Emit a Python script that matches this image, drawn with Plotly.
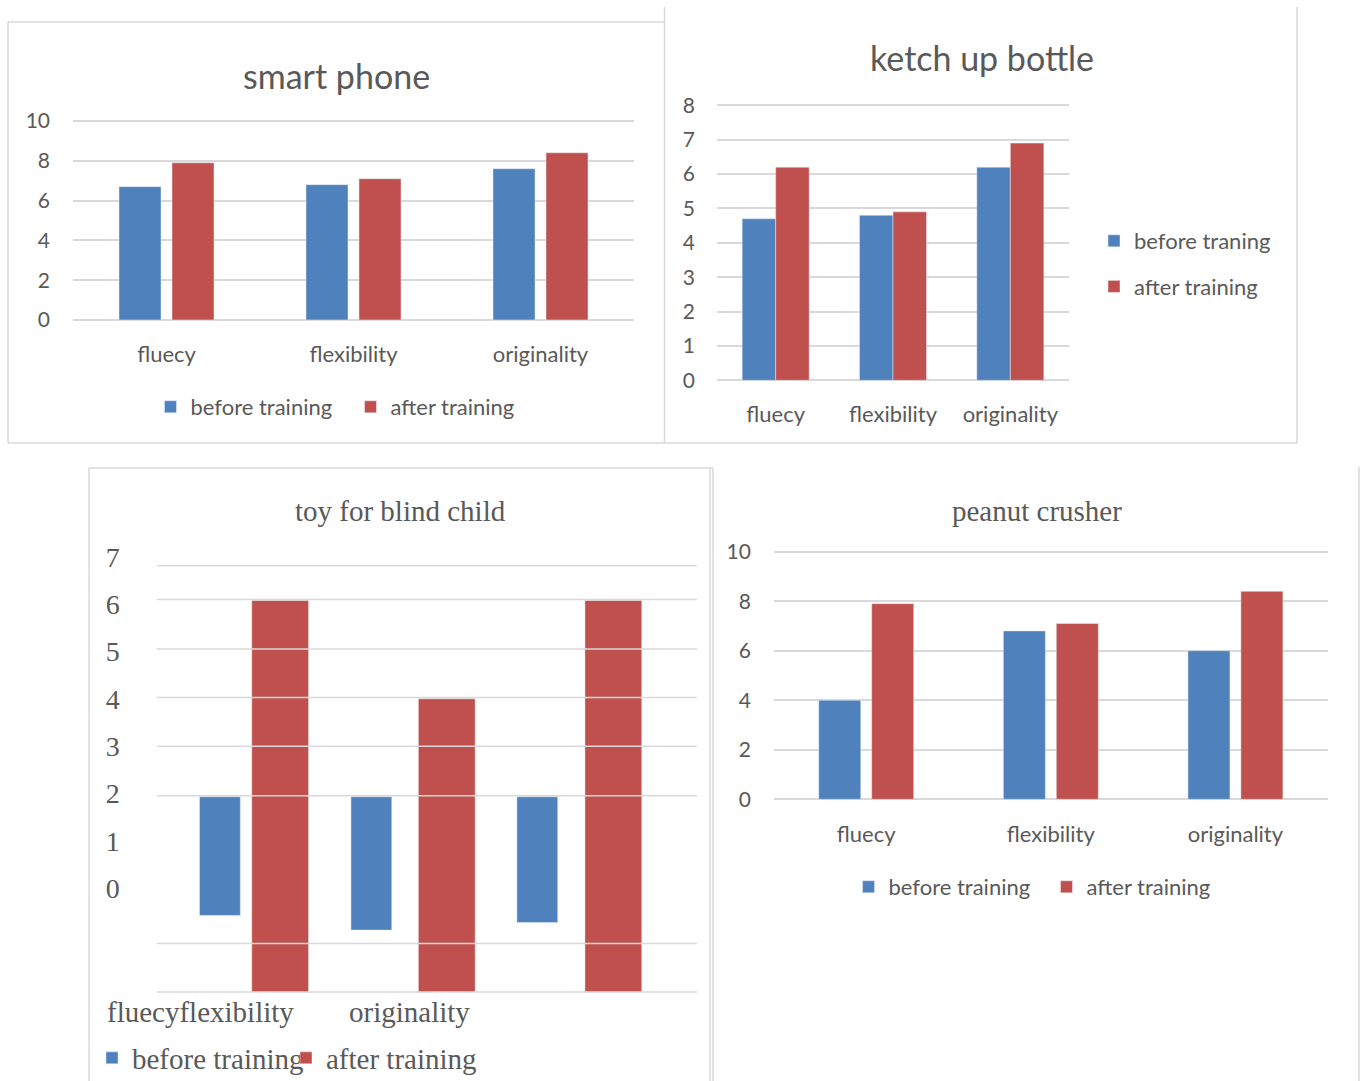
import plotly.graph_objects as go

W, H = 1362, 1081

# ---------------- data ----------------
categories = ["fluecy", "flexibility", "originality"]

smart_before = [6.7, 6.8, 7.6]
smart_after = [7.9, 7.1, 8.4]
smart_ticks = [0, 2, 4, 6, 8, 10]

ketchup_before = [4.7, 4.8, 6.2]
ketchup_after = [6.2, 4.9, 6.9]
ketchup_ticks = [0, 1, 2, 3, 4, 5, 6, 7, 8]

toy_before_top = [1.93, 1.93, 1.93]
toy_before_bottom = [-0.58, -0.89, -0.73]
toy_after_top = [6.08, 4.0, 6.08]
toy_after_bottom = [-2.2, -2.2, -2.2]
toy_ticks = [0, 1, 2, 3, 4, 5, 6, 7]
toy_gridlines = [6.815, 6.103, 5.054, 4.026, 2.996, 1.950, -1.176, -2.2]
toy_xlabels = ["fluecyflexibility", "originality"]

peanut_before = [4.0, 6.8, 6.0]
peanut_after = [7.9, 7.1, 8.4]
peanut_ticks = [0, 2, 4, 6, 8, 10]

# ---------------- style ----------------
BLUE = "#4f81bd"
RED = "#c0504d"
GRAY = "#595959"
GRID = "#d9d9d9"
SANS = "Lato"
SERIF = "Liberation Serif"


def px(x):
    return x / W


def py(y):
    return 1 - y / H


def ydomain(v0, p0, v1, p1, r0, r1):
    s = (p0 - p1) / (v1 - v0)
    a = p0 - (r0 - v0) * s
    b = p0 - (r1 - v0) * s
    return [py(a), py(b)]


fig = go.Figure()


def add_pair(before, after, xa, ya, leg, names, width, off_b, off_r):
    fig.add_trace(go.Bar(x=categories, y=before, name=names[0], marker_color=BLUE,
                         xaxis=xa, yaxis=ya, legend=leg, width=width, offset=off_b,
                         legendgroup=leg + "b", hoverinfo="x+y"))
    fig.add_trace(go.Bar(x=categories, y=after, name=names[1], marker_color=RED,
                         xaxis=xa, yaxis=ya, legend=leg, width=width, offset=off_r,
                         legendgroup=leg + "r", hoverinfo="x+y"))


add_pair(smart_before, smart_after, "x", "y", "legend",
         ["before training", "after training"], 0.2246, -0.254, 0.0294)
add_pair(ketchup_before, ketchup_after, "x2", "y2", "legend2",
         ["before traning", "after training"], 0.2856, -0.2856, 0.0)

# toy chart (floating bars)
fig.add_trace(go.Bar(x=categories, y=[t - b for t, b in zip(toy_before_top, toy_before_bottom)],
                     base=toy_before_bottom, name="before training", marker_color=BLUE,
                     xaxis="x3", yaxis="y3", legend="legend3", width=0.245,
                     offset=[-0.484, -0.575, -0.579], hoverinfo="x"))
fig.add_trace(go.Bar(x=categories, y=[t - b for t, b in zip(toy_after_top, toy_after_bottom)],
                     base=toy_after_bottom, name="after training", marker_color=RED,
                     xaxis="x3", yaxis="y3", legend="legend3", width=0.341,
                     offset=-0.1705, hoverinfo="x"))

add_pair(peanut_before, peanut_after, "x4", "y4", "legend4",
         ["before training", "after training"], 0.2275, -0.257, 0.0298)

ytick = dict(family=SANS, size=21, color=GRAY)
xtick = dict(family=SANS, size=22, color=GRAY)
legfont = dict(family=SANS, size=22, color=GRAY)
serif_font = dict(family=SERIF, size=29, color=GRAY)
serif_tick = dict(family=SERIF, size=28, color=GRAY)

common_y = dict(showgrid=True, gridcolor=GRID, gridwidth=1.5, zeroline=False,
                showline=False, ticks="", fixedrange=True, automargin=False)
common_x = dict(showgrid=False, zeroline=False, showline=False, ticks="", type="category",
                fixedrange=True, automargin=False)

fig.update_layout(
    width=W, height=H, autosize=False,
    margin=dict(l=0, r=0, t=0, b=0, pad=0, autoexpand=False),
    paper_bgcolor="white", plot_bgcolor="white",
    barmode="group",
    # panel 1
    xaxis=dict(common_x, domain=[px(73), px(634)], anchor="y", tickfont=xtick,
               ticklabelstandoff=17),
    yaxis=dict(common_y, domain=ydomain(0, 320, 10, 121, -0.1, 10.1), range=[-0.1, 10.1],
               anchor="x", tickvals=smart_ticks, tickfont=ytick, ticklabelstandoff=22),
    # panel 2
    xaxis2=dict(common_x, domain=[px(717), px(1069)], anchor="y2", tickfont=xtick,
                ticklabelstandoff=17),
    yaxis2=dict(common_y, domain=ydomain(0, 380.3, 8, 105.3, -0.05, 8.05), range=[-0.05, 8.05],
                anchor="x2", tickvals=ketchup_ticks, tickfont=ytick,
                ticklabelstandoff=21),
    # panel 3
    xaxis3=dict(common_x, domain=[px(156.7), px(697)], anchor="y3", showticklabels=False,
                range=[-0.741, 2.502]),
    yaxis3=dict(showgrid=False, zeroline=False, showline=False, ticks="", fixedrange=True,
                automargin=False,
                domain=ydomain(0, 888, 7, 557, -2.25, 7.2), range=[-2.25, 7.2], anchor="x3",
                tickvals=toy_ticks, ticktext=[str(t) for t in toy_ticks], tickfont=serif_tick,
                ticklabelstandoff=36),
    # panel 4
    xaxis4=dict(common_x, domain=[px(773.9), px(1327.7)], anchor="y4", tickfont=xtick,
                ticklabelstandoff=17),
    yaxis4=dict(common_y, domain=ydomain(0, 799.3, 10, 551.7, -0.1, 10.1), range=[-0.1, 10.1],
                anchor="x4", tickvals=peanut_ticks, tickfont=ytick, ticklabelstandoff=22),
    legend=dict(orientation="h", x=px(150.5), y=py(407), xanchor="left", yanchor="middle",
                font=legfont, bgcolor="rgba(0,0,0,0)", traceorder="normal",
                entrywidth=155, entrywidthmode="pixels"),
    legend2=dict(orientation="v", x=px(1094), y=py(264), xanchor="left", yanchor="middle",
                 font=legfont, bgcolor="rgba(0,0,0,0)", traceorder="grouped",
                 tracegroupgap=14),
    legend3=dict(orientation="h", x=px(92), y=py(1058), xanchor="left", yanchor="middle",
                 font=serif_font, bgcolor="rgba(0,0,0,0)", traceorder="normal",
                 entrywidth=149, entrywidthmode="pixels"),
    legend4=dict(orientation="h", x=px(848.5), y=py(887), xanchor="left", yanchor="middle",
                 font=legfont, bgcolor="rgba(0,0,0,0)", traceorder="normal",
                 entrywidth=153, entrywidthmode="pixels"),
    showlegend=True,
)

# titles
titles = [
    ("smart phone", 336.5, 75, SANS, 34),
    ("ketch up bottle", 982, 58, SANS, 34),
    ("toy for blind child", 400, 511, SERIF, 29),
    ("peanut crusher", 1036.5, 511, SERIF, 29),
]
for text, x, y, fam, size in titles:
    fig.add_annotation(text=text, x=px(x), y=py(y), xref="paper", yref="paper",
                       showarrow=False, xanchor="center", yanchor="middle",
                       font=dict(family=fam, size=size, color=GRAY))

# toy chart's misplaced category labels
for text, x in zip(toy_xlabels, [200, 409.6]):
    fig.add_annotation(text=text, x=px(x), y=py(1012), xref="paper", yref="paper",
                       showarrow=False, xanchor="center", yanchor="middle", font=serif_font)

# toy chart gridlines drawn above the bars
for g in toy_gridlines:
    fig.add_shape(type="line", xref="x3 domain", yref="y3", x0=0, x1=1, y0=g, y1=g,
                  line=dict(color=GRID, width=1.5), layer="above")

# panel borders
borders = [
    (8, 22, 664, 22), (8, 22, 8, 443), (8, 443, 1297, 443), (664.5, 7, 664.5, 443),
    (1297, 7, 1297, 443),
    (89, 468, 713, 468), (89, 468, 89, 1081), (710, 468, 710, 1081), (713, 468, 713, 1081),
    (1359, 467, 1359, 1081),
]
for x0, y0, x1, y1 in borders:
    fig.add_shape(type="line", xref="paper", yref="paper", x0=px(x0), y0=py(y0),
                  x1=px(x1), y1=py(y1), line=dict(color=GRID, width=1.5), layer="below")

fig.write_html("out.html")
